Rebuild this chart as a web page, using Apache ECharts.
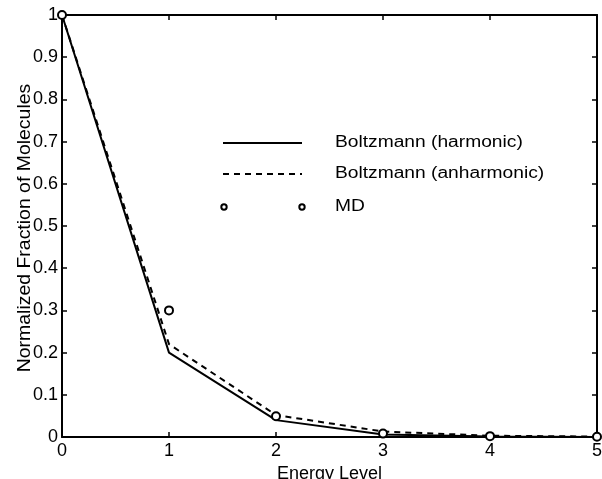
<!DOCTYPE html>
<html>
<head>
<meta charset="utf-8">
<script src="https://cdn.jsdelivr.net/npm/echarts@6/dist/echarts.min.js"></script>
<style>html,body{margin:0;padding:0;background:#fff;overflow:hidden}#c{width:602px;height:479px}</style>
</head>
<body>
<div id="c"></div>
<script>
const energyLevels = [0, 1, 2, 3, 4, 5];
const harmonic = [1, 0.20, 0.040, 0.006, 0.001, 0.0002];
const anharmonic = [1, 0.22, 0.052, 0.013, 0.003, 0.001];
const md = [1, 0.30, 0.049, 0.008, 0.002, 0.0005];
const legendNames = ['Boltzmann (harmonic)', 'Boltzmann (anharmonic)', 'MD'];
const xTitle = 'Energy Level';
const yTitle = 'Normalized Fraction of Molecules';

const font = 'Liberation Sans, Arial, Helvetica, sans-serif';
const chart = echarts.init(document.getElementById('c'), null, {renderer: 'canvas'});
const pair = arr => energyLevels.map((x, i) => [x, arr[i]]);
const axisCommon = {
  axisLine: {show: true, onZero: false, lineStyle: {color: '#000', width: 2}},
  axisTick: {show: true, inside: true, length: 5, lineStyle: {color: '#000', width: 1.5}},
  splitLine: {show: false}
};
const legendText = (i, y) => ({type: 'text', x: 335, y: y, scaleX: 1.2,
  style: {text: legendNames[i], font: '16px ' + font, fill: '#000', textVerticalAlign: 'middle', verticalAlign: 'middle'}});
chart.setOption({
  animation: false,
  backgroundColor: '#fff',
  grid: {left: 62, right: 5, top: 15, bottom: 42, containLabel: false, outerBoundsMode: 'none'},
  xAxis: [
    Object.assign({type: 'value', min: 0, max: 5, interval: 1, position: 'bottom',
      name: xTitle, nameLocation: 'middle', nameGap: 25,
      nameTextStyle: {fontFamily: font, fontSize: 18, color: '#000', verticalAlign: 'top'},
      axisLabel: {fontFamily: font, fontSize: 18, color: '#000', margin: 5}}, axisCommon),
    Object.assign({type: 'value', min: 0, max: 5, interval: 1, position: 'top',
      axisLabel: {show: false}}, axisCommon)
  ],
  yAxis: [
    Object.assign({type: 'value', min: 0, max: 1, interval: 0.1, position: 'left',
      axisLabel: {fontFamily: font, fontSize: 18, color: '#000', margin: 4,
        formatter: v => String(Math.round(v * 10) / 10)}}, axisCommon),
    Object.assign({type: 'value', min: 0, max: 1, interval: 0.1, position: 'right',
      axisLabel: {show: false}}, axisCommon)
  ],
  series: [
    {name: legendNames[0], type: 'line', data: pair(harmonic), showSymbol: false, symbol: 'none',
      lineStyle: {color: '#000', width: 2}, z: 3},
    {name: legendNames[1], type: 'line', data: pair(anharmonic), showSymbol: false, symbol: 'none',
      lineStyle: {color: '#000', width: 2, type: [6, 5]}, z: 3},
    {name: legendNames[2], type: 'scatter', data: pair(md), symbol: 'circle', symbolSize: 8,
      itemStyle: {color: '#fff', borderColor: '#000', borderWidth: 2, opacity: 1}, z: 4}
  ],
  graphic: [
    {type: 'line', shape: {x1: 223, y1: 143, x2: 302, y2: 143}, style: {stroke: '#000', lineWidth: 2}},
    {type: 'line', shape: {x1: 223, y1: 174, x2: 302, y2: 174}, style: {stroke: '#000', lineWidth: 2, lineDash: [6, 5]}},
    {type: 'circle', shape: {cx: 224, cy: 207, r: 2.7}, style: {fill: '#fff', stroke: '#000', lineWidth: 2}},
    {type: 'circle', shape: {cx: 302, cy: 207, r: 2.7}, style: {fill: '#fff', stroke: '#000', lineWidth: 2}},
    legendText(0, 143), legendText(1, 174), legendText(2, 207),
    {type: 'text', x: 25, y: 228, rotation: Math.PI / 2, scaleX: 1.08,
      style: {text: yTitle, font: '18px ' + font, fill: '#000', align: 'center', verticalAlign: 'middle',
        textAlign: 'center', textVerticalAlign: 'middle'}}
  ]
});
</script>
</body>
</html>
